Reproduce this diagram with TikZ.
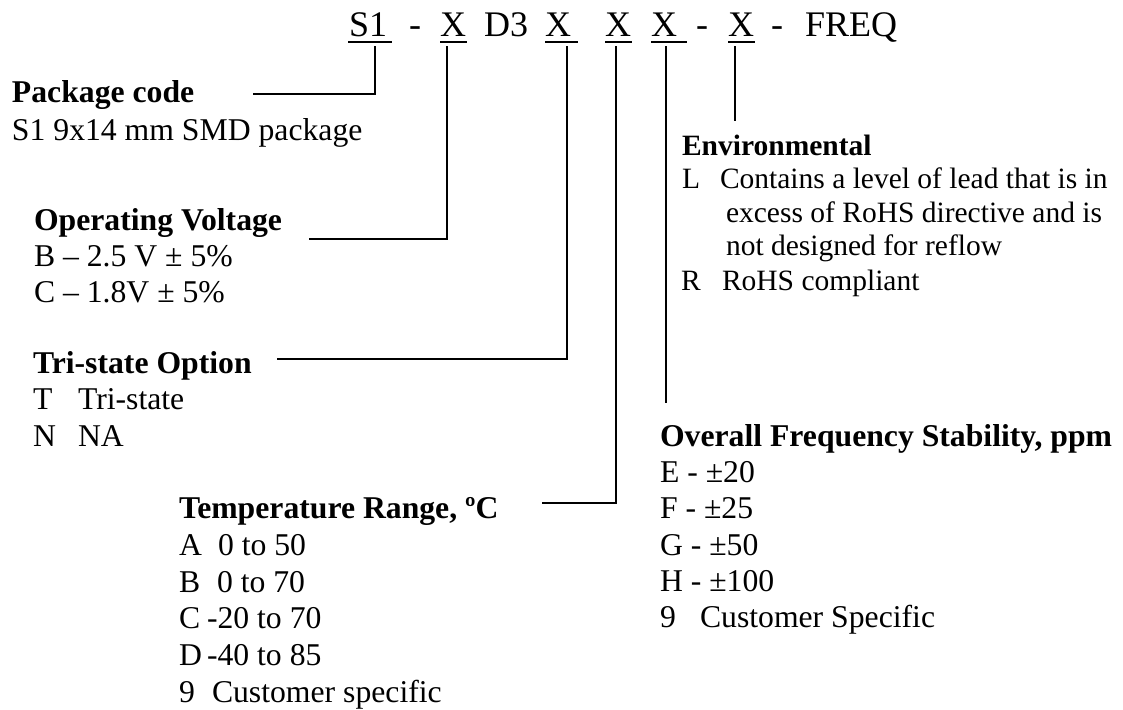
\documentclass[tikz,border=0pt]{standalone}
\usepackage{fontspec}
\setmainfont{Liberation Serif}
\begin{document}
\begin{tikzpicture}[x=1pt,y=-1pt,
  txt/.style={anchor=base west, inner sep=0pt, outer sep=0pt, font=\fontsize{31.7}{36}\selectfont},
  txtsmall/.style={anchor=base west, inner sep=0pt, outer sep=0pt, font=\fontsize{29.5}{34}\selectfont},
  hd/.style={anchor=base west, inner sep=0pt, outer sep=0pt, font=\fontsize{31.7}{36}\selectfont\bfseries},
  hdsmall/.style={anchor=base west, inner sep=0pt, outer sep=0pt, font=\fontsize{29.5}{34}\selectfont\bfseries},
  codetxt/.style={anchor=base west, inner sep=0pt, outer sep=0pt, font=\fontsize{36}{40}\selectfont},
  conn/.style={line width=1.6pt, line cap=rect},
  uline/.style={line width=1.6pt}]
\useasboundingbox (0,0) rectangle (1123,709);

% ---------- code line ----------
\node[codetxt] (cS1) at (349,37) {S1};
\node[codetxt] (cd1) at (409,37) {-};
\node[codetxt] (cX1) at (440,37) {X};
\node[codetxt] (cD3) at (484,37) {D3};
\node[codetxt] (cX2) at (545,37) {X};
\node[codetxt] (cX3) at (605,37) {X};
\node[codetxt] (cX4) at (651,37) {X};
\node[codetxt] (cd2) at (696,37) {-};
\node[codetxt] (cX5) at (728,37) {X};
\node[codetxt] (cd3) at (771,37) {-};
\node[codetxt] (cFQ) at (805,37) {FREQ};

% underlines
\coordinate (uS1a) at (348,42); \coordinate (uS1b) at (392,42);
\coordinate (uX1a) at (440,42); \coordinate (uX1b) at (467,42);
\coordinate (uX2a) at (545,42); \coordinate (uX2b) at (578,42);
\coordinate (uX3a) at (605,42); \coordinate (uX3b) at (632,42);
\coordinate (uX4a) at (651,42); \coordinate (uX4b) at (687,42);
\coordinate (uX5a) at (728,42); \coordinate (uX5b) at (755,42);
\foreach \u in {S1,X1,X2,X3,X4,X5} \draw[uline] (u\u a) -- (u\u b);

% ---------- Package code ----------
\node[hd]  (pkgH) at (12,102) {Package code};
\node[txt] (pkg1) at (12,140) {S1 9x14 mm SMD package};

% ---------- Operating Voltage ----------
\node[hd]  (volH) at (34,230) {Operating Voltage};
\node[txt] (vol1) at (34,266) {B – 2.5 V ± 5\%};
\node[txt] (vol2) at (34,302) {C – 1.8V ± 5\%};

% ---------- Tri-state ----------
\node[hd]  (triH) at (33,373) {Tri-state Option};
\node[txt] (tri1a) at (33,409) {T};
\node[txt] (tri1b) at (78,409) {Tri-state};
\node[txt] (tri2a) at (33,446) {N};
\node[txt] (tri2b) at (78,446) {NA};

% ---------- Temperature ----------
\node[hd]  (tmpH) at (179,518) {Temperature Range, ºC};
\node[txt] (tmp1a) at (179,555) {A};
\node[txt] (tmp1b) at (218,555) {0 to 50};
\node[txt] (tmp2a) at (179,592) {B};
\node[txt] (tmp2b) at (217,592) {0 to 70};
\node[txt] (tmp3a) at (179,628) {C};
\node[txt] (tmp3b) at (207,628) {-20 to 70};
\node[txt] (tmp4a) at (179,665) {D};
\node[txt] (tmp4b) at (207,665) {-40 to 85};
\node[txt] (tmp5a) at (179,702) {9};
\node[txt] (tmp5b) at (212,702) {Customer specific};

% ---------- Environmental ----------
\node[hdsmall] (envH) at (682,155) {Environmental};
\node[txtsmall] (env1a) at (682,188) {L};
\node[txtsmall] (env1b) at (720,188) {Contains a level of lead that is in};
\node[txtsmall] (env2)  at (726,222) {excess of RoHS directive and is};
\node[txtsmall] (env3)  at (726,255) {not designed for reflow};
\node[txtsmall] (env4a) at (681,290) {R};
\node[txtsmall] (env4b) at (722,290) {RoHS compliant};

% ---------- Frequency stability ----------
\node[hd]  (frqH) at (660,446) {Overall Frequency Stability, ppm};
\node[txt] (frq1) at (660,482) {E - ±20};
\node[txt] (frq2) at (660,518) {F - ±25};
\node[txt] (frq3) at (660,555) {G - ±50};
\node[txt] (frq4) at (660,591) {H - ±100};
\node[txt] (frq5a) at (660,627) {9};
\node[txt] (frq5b) at (700,627) {Customer Specific};

% ---------- connectors ----------
\coordinate (tS1) at (375,47);  \coordinate (ePkg) at (254,94);
\coordinate (tX1) at (447,47);  \coordinate (eVol) at (310,239);
\coordinate (tX2) at (567,47);  \coordinate (eTri) at (278,359);
\coordinate (tX3) at (616,47);  \coordinate (eTmp) at (543,503);
\coordinate (tX4) at (666,47);  \coordinate (eFrq) at (666,402);
\coordinate (tX5) at (735,47);  \coordinate (eEnv) at (735,120);

\draw[conn] (tS1) |- (ePkg);
\draw[conn] (tX1) |- (eVol);
\draw[conn] (tX2) |- (eTri);
\draw[conn] (tX3) |- (eTmp);
\draw[conn] (tX4) -- (eFrq);
\draw[conn] (tX5) -- (eEnv);
\end{tikzpicture}
\end{document}
